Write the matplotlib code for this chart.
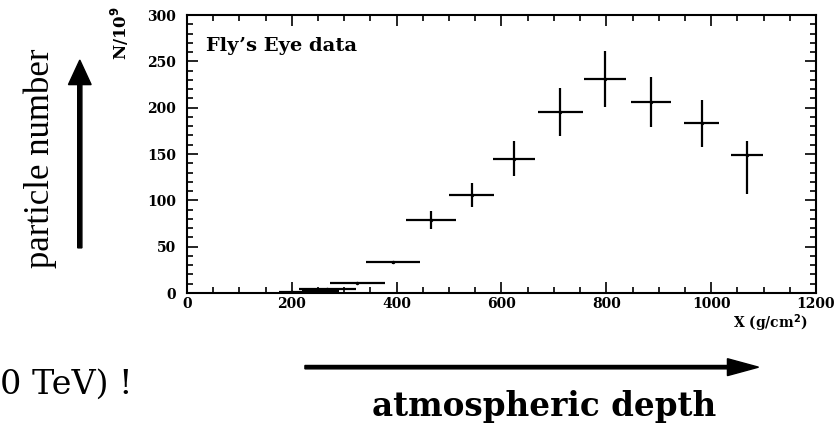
import matplotlib.pyplot as plt
import matplotlib.patches as mpatches
from matplotlib.ticker import MultipleLocator

# Fly's Eye longitudinal shower profile
depth = [200, 255, 268, 325, 393, 465, 543, 624, 712, 798, 886, 982, 1068]
n_part = [1, 2, 4, 11, 33, 79, 106, 145, 195, 231, 206, 183, 149]
depth_err = [25, 35, 55, 53, 52, 48, 43, 40, 43, 40, 38, 33, 31]
n_err_lo = [0, 0, 0, 0, 2, 10, 13, 19, 26, 30, 27, 25, 42]
n_err_hi = [0, 0, 0, 0, 2, 10, 13, 19, 26, 30, 27, 25, 15]

wide = ['DejaVu Serif']
plt.rcParams['font.family'] = wide

fig = plt.figure(figsize=(8.4, 4.23), dpi=100)
ax = fig.add_axes([0.2226, 0.3073, 0.7488, 0.6572])

ax.errorbar(depth, n_part, xerr=depth_err, yerr=[n_err_lo, n_err_hi],
            fmt='.', color='black', markersize=3, elinewidth=1.6, capsize=0)

ax.set_xlim(0, 1200)
ax.set_ylim(0, 300)
ax.xaxis.set_major_locator(MultipleLocator(200))
ax.xaxis.set_minor_locator(MultipleLocator(50))
ax.yaxis.set_major_locator(MultipleLocator(50))
ax.yaxis.set_minor_locator(MultipleLocator(10))
ax.tick_params(which='both', direction='in', top=True, right=True, width=1.2)
ax.tick_params(which='major', length=8)
ax.tick_params(which='minor', length=4)
ax.tick_params(axis='y', pad=8)
ax.tick_params(axis='x', pad=3)
for lbl in ax.get_xticklabels() + ax.get_yticklabels():
    lbl.set_fontweight('bold')
    lbl.set_fontsize(10)
for s in ax.spines.values():
    s.set_linewidth(1.5)

ax.text(0.03, 0.89, "Fly\u2019s Eye data", transform=ax.transAxes,
        fontsize=14, fontweight='bold', va='center', ha='left')

# axis titles (ROOT style)
fig.text(0.143, 0.922, r"N/10$^{\mathbf{9}}$", rotation=90, fontsize=12,
         fontweight='bold', ha='center', va='center')
fig.text(0.962, 0.235, r"X (g/cm$^{\mathbf{2}}$)", fontsize=10,
         fontweight='bold', ha='right', va='center')

# big annotation arrows and labels
fig.text(0.048, 0.627, "particle number", rotation=90, fontsize=25,
         family=['Liberation Serif'], ha='center', va='center')
fig.text(0.648, 0.04, "atmospheric depth", fontsize=23.5, fontweight='bold',
         ha='center', va='center')
fig.text(0.0, 0.09, "0 TeV) !", fontsize=24, ha='left', va='center')

fig.patches.append(mpatches.FancyArrow(
    0.095, 0.414, 0, 0.444, width=0.005, head_width=0.027,
    head_length=0.058, length_includes_head=True, color='black',
    transform=fig.transFigure, figure=fig))
fig.patches.append(mpatches.FancyArrow(
    0.363, 0.132, 0.54, 0, width=0.008, head_width=0.04,
    head_length=0.037, length_includes_head=True, color='black',
    transform=fig.transFigure, figure=fig))

fig.savefig('out.png', dpi=100)
